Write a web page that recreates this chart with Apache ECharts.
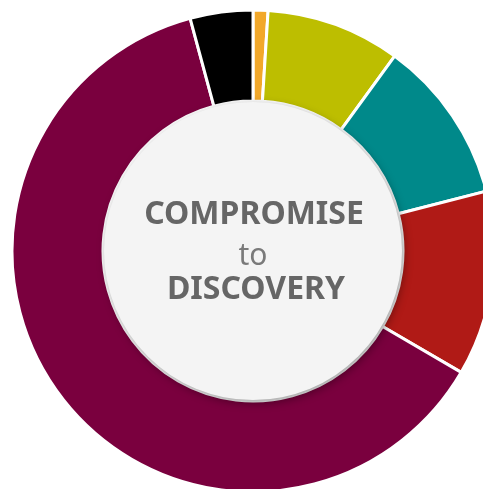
<!DOCTYPE html>
<html>
<head>
<meta charset="utf-8">
<style>
  html, body { margin: 0; padding: 0; background: #ffffff; }
  #chart { width: 483px; height: 489px; }
</style>
<script src="https://cdn.jsdelivr.net/npm/echarts@6/dist/echarts.min.js"></script>
</head>
<body>
<div id="chart"></div>
<script>
// Ring segments, clockwise from 12 o'clock
const categories = ['Orange', 'Yellow', 'Teal', 'Red', 'Maroon', 'Black'];
const shares = [1.0, 9.0, 11.0, 12.4, 62.4, 4.2];
const colors = ['#f2a82a', '#bdbe00', '#00898a', '#b01a16', '#7a003e', '#000000'];

// Centre caption
const captionLines = ['COMPROMISE', 'to', 'DISCOVERY'];

const chart = echarts.init(document.getElementById('chart'), null, { renderer: 'canvas' });

const cx = 253, cy = 251, rIn = 150, rOut = 241;

chart.setOption({
  animation: false,
  backgroundColor: '#ffffff',
  series: [
    {
      type: 'pie',
      silent: true,
      center: [cx, cy],
      radius: [rIn, rOut],
      startAngle: 90,
      clockwise: true,
      label: { show: false },
      labelLine: { show: false },
      itemStyle: { borderColor: '#ffffff', borderWidth: 3 },
      data: categories.map((name, i) => ({
        name,
        value: shares[i],
        itemStyle: { color: colors[i] }
      }))
    }
  ],
  graphic: [
    {
      type: 'circle',
      silent: true,
      shape: { cx: cx, cy: cy, r: rIn - 1 },
      style: {
        fill: '#f4f4f4',
        shadowBlur: 10,
        shadowColor: 'rgba(0,0,0,0.4)',
        shadowOffsetX: 2,
        shadowOffsetY: 3
      },
      z: 10
    },
    {
      type: 'text',
      silent: true,
      x: cx + 1, y: 215,
      style: {
        text: captionLines[0],
        fill: '#666666',
        font: 'bold 32px "Noto Sans"',
        align: 'center',
        verticalAlign: 'middle'
      },
      z: 11
    },
    {
      type: 'text',
      silent: true,
      x: cx, y: 256,
      style: {
        text: captionLines[1],
        fill: '#7a7a7a',
        font: 'normal 30px "Noto Sans"',
        align: 'center',
        verticalAlign: 'middle'
      },
      z: 11
    },
    {
      type: 'text',
      silent: true,
      x: cx + 3, y: 290,
      style: {
        text: captionLines[2],
        fill: '#666666',
        font: 'bold 32px "Noto Sans"',
        align: 'center',
        verticalAlign: 'middle'
      },
      z: 11
    }
  ]
});
</script>
</body>
</html>
